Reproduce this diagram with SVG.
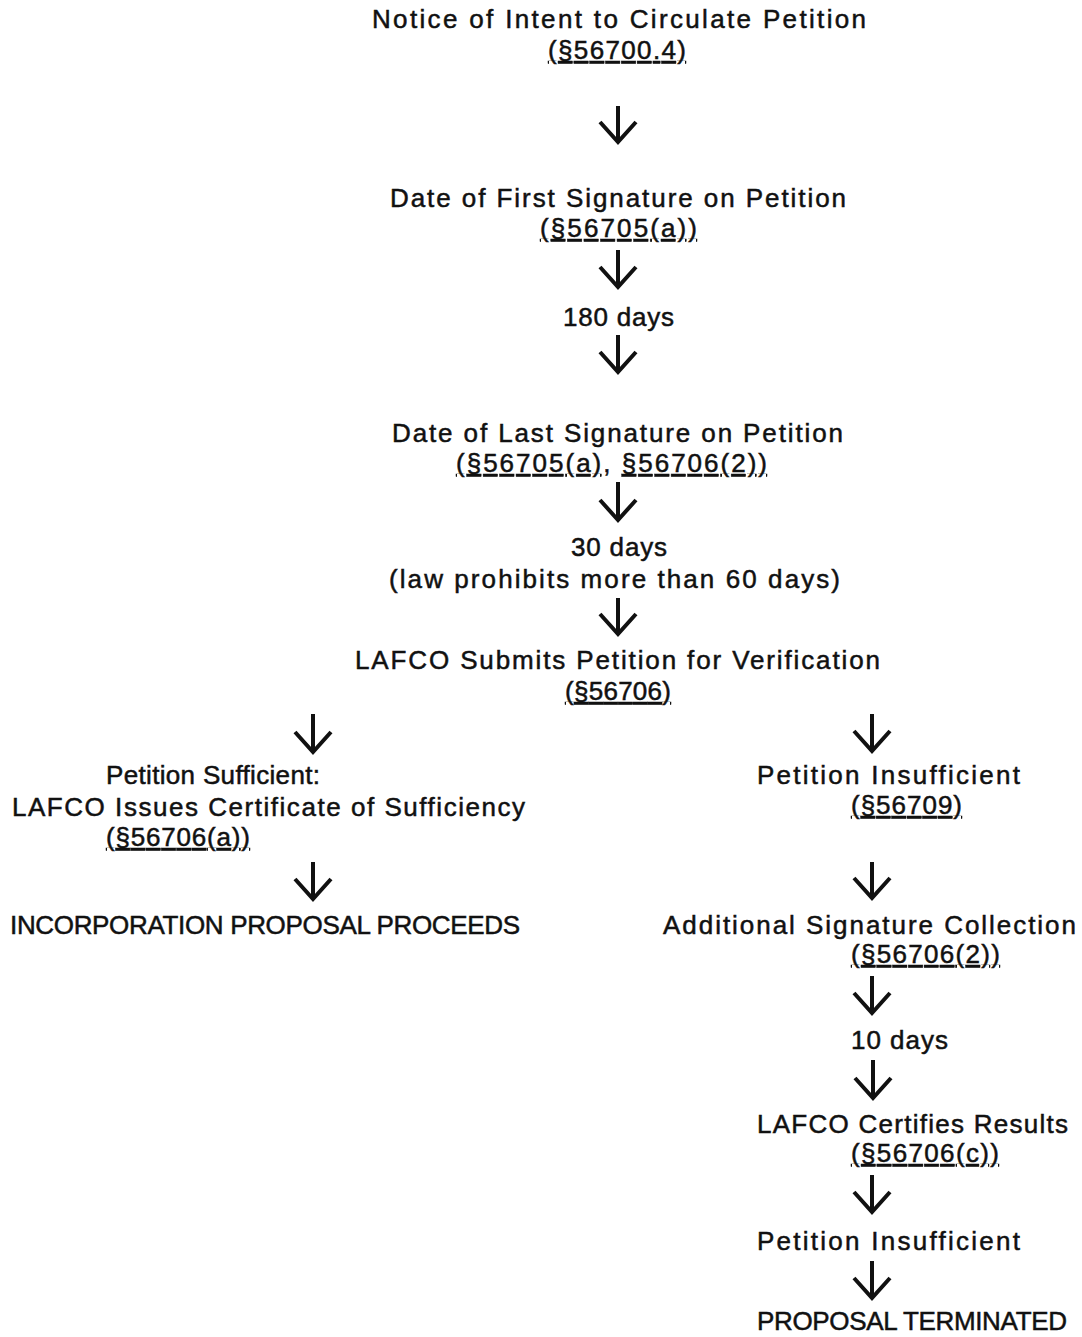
<svg xmlns="http://www.w3.org/2000/svg" width="1082" height="1337" viewBox="0 0 1082 1337">
<style>
text{font-family:"Liberation Sans",Arial,sans-serif;font-size:26px;fill:#111;stroke:#111;stroke-width:0.5;}
.u{text-decoration:underline;}
.arr{stroke:#111;stroke-width:4;fill:none;stroke-linejoin:miter;stroke-linecap:butt;}
</style>
<rect width="1082" height="1337" fill="#fff"/>
<g id="n1">
<text x="372" y="28" textLength="494">Notice of Intent to Circulate Petition</text>
<text class="u" x="548" y="59" textLength="138">(§56700.4)</text>
</g>
<g id="n2">
<text x="390" y="207" textLength="456">Date of First Signature on Petition</text>
<text class="u" x="540" y="237" textLength="157">(§56705(a))</text>
</g>
<g id="n3"><text x="563" y="326" textLength="111">180 days</text></g>
<g id="n4">
<text x="392" y="442" textLength="451">Date of Last Signature on Petition</text>
<text x="456" y="472" textLength="311"><tspan class="u">(§56705(a)</tspan>, <tspan class="u">§56706(2))</tspan></text>
</g>
<g id="n5">
<text x="571" y="556" textLength="96">30 days</text>
<text x="389" y="588" textLength="451">(law prohibits more than 60 days)</text>
</g>
<g id="n6">
<text x="355" y="669" textLength="525">LAFCO Submits Petition for Verification</text>
<text class="u" x="565" y="700" textLength="106">(§56706)</text>
</g>
<g id="n7">
<text x="106" y="784" textLength="214">Petition Sufficient:</text>
<text x="12" y="816" textLength="513">LAFCO Issues Certificate of Sufficiency</text>
<text class="u" x="106" y="846" textLength="144">(§56706(a))</text>
</g>
<g id="n8"><text x="10" y="934" textLength="510">INCORPORATION PROPOSAL PROCEEDS</text></g>
<g id="n9">
<text x="757" y="784" textLength="263">Petition Insufficient</text>
<text class="u" x="851" y="814" textLength="111">(§56709)</text>
</g>
<g id="n10">
<text x="663" y="934" textLength="413">Additional Signature Collection</text>
<text class="u" x="851" y="963" textLength="149">(§56706(2))</text>
</g>
<g id="n11"><text x="851" y="1049" textLength="97">10 days</text></g>
<g id="n12">
<text x="757" y="1133" textLength="311">LAFCO Certifies Results</text>
<text class="u" x="851" y="1162" textLength="148">(§56706(c))</text>
</g>
<g id="n13"><text x="757" y="1250" textLength="263">Petition Insufficient</text></g>
<g id="n14"><text x="757" y="1330" textLength="310">PROPOSAL TERMINATED</text></g>
<g id="connectors">
<path class="arr" d="M618,106V142M600,122L618,142L636,122"/>
<path class="arr" d="M618,250V287M600,267L618,287L636,267"/>
<path class="arr" d="M618,335V372M600,352L618,372L636,352"/>
<path class="arr" d="M618,482V520M600,500L618,520L636,500"/>
<path class="arr" d="M618,598V634M600,614L618,634L636,614"/>
<path class="arr" d="M313,714V752M295,732L313,752L331,732"/>
<path class="arr" d="M872,714V751M854,731L872,751L890,731"/>
<path class="arr" d="M313,862V899M295,879L313,899L331,879"/>
<path class="arr" d="M872,862V898M854,878L872,898L890,878"/>
<path class="arr" d="M872,976V1013M854,993L872,1013L890,993"/>
<path class="arr" d="M873,1060V1098M855,1078L873,1098L891,1078"/>
<path class="arr" d="M872,1175V1212M854,1192L872,1212L890,1192"/>
<path class="arr" d="M872,1261V1298M854,1278L872,1298L890,1278"/>
</g>
</svg>
